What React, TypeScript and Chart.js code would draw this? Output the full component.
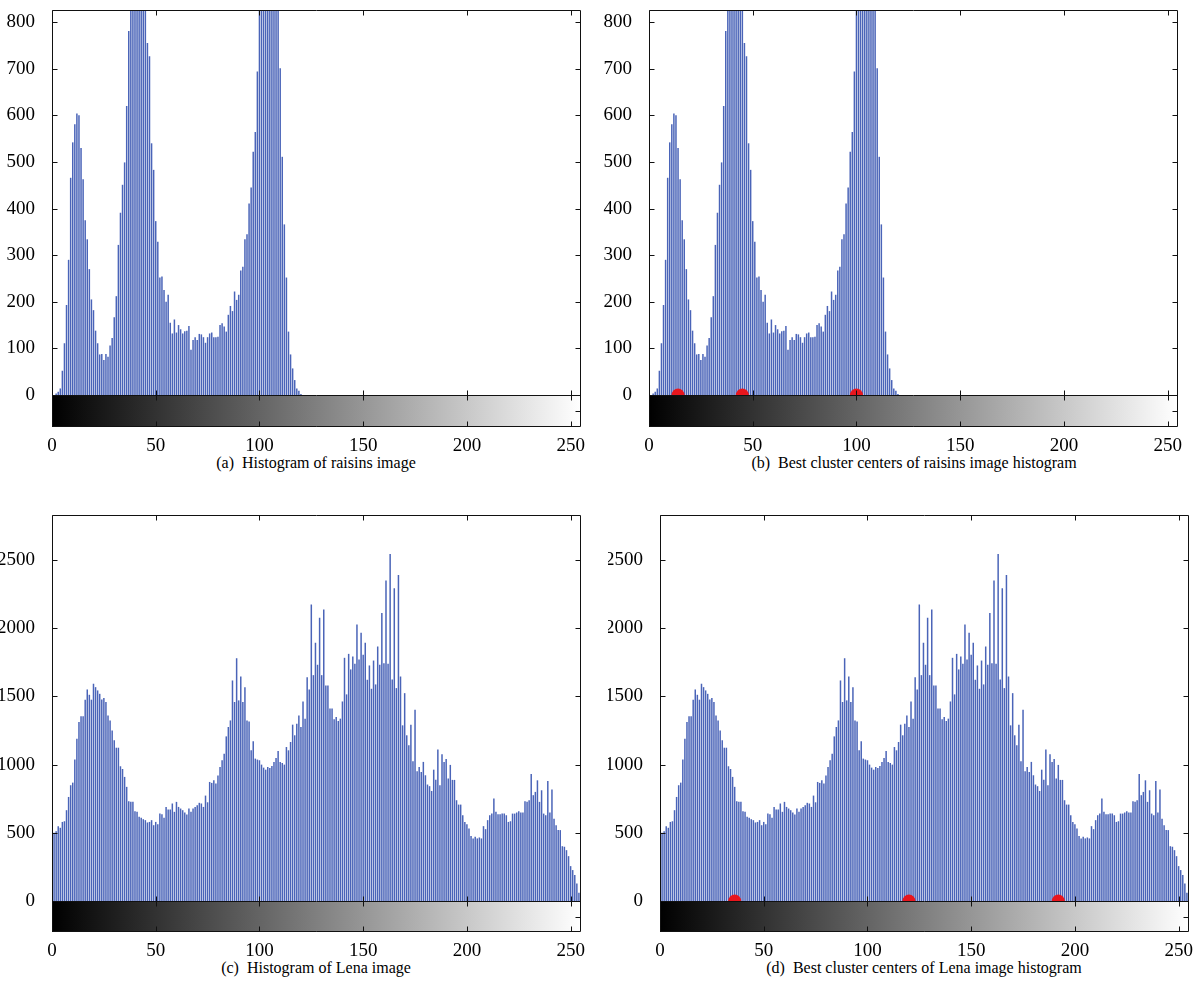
import React, { useEffect, useRef } from "react";
import { Chart, registerables } from "chart.js";
Chart.register(...registerables);

// ---------- data ----------
const raisinsCounts: number[] = [
  0, 0, 3, 7, 14, 52, 111, 193, 290, 466,
  542, 581, 604, 600, 530, 463, 375, 334, 270, 205,
  182, 138, 111, 87, 88, 75, 88, 82, 106, 122,
  167, 212, 322, 391, 451, 499, 620, 781, 880, 960,
  1050, 1100, 1120, 1060, 980, 900, 755, 727, 540, 483,
  373, 329, 252, 254, 225, 200, 215, 155, 132, 162,
  134, 150, 141, 132, 137, 138, 148, 97, 118, 124,
  118, 131, 130, 124, 112, 124, 132, 134, 124, 124,
  125, 150, 154, 147, 136, 172, 191, 180, 222, 204,
  215, 267, 275, 334, 345, 411, 445, 522, 564, 694,
  860, 950, 1050, 1150, 1200, 1180, 1100, 1000, 920, 850,
  701, 511, 366, 252, 136, 87, 57, 32, 14, 9,
  2, 0, 0, 0, 0, 0, 0, 0, 0, 0,
  0, 0, 0, 0, 0, 0, 0, 0, 0, 0,
  0, 0, 0, 0, 0, 0, 0, 0, 0, 0,
  0, 0, 0, 0, 0, 0, 0, 0, 0, 0,
  0, 0, 0, 0, 0, 0, 0, 0, 0, 0,
  0, 0, 0, 0, 0, 0, 0, 0, 0, 0,
  0, 0, 0, 0, 0, 0, 0, 0, 0, 0,
  0, 0, 0, 0, 0, 0, 0, 0, 0, 0,
  0, 0, 0, 0, 0, 0, 0, 0, 0, 0,
  0, 0, 0, 0, 0, 0, 0, 0, 0, 0,
  0, 0, 0, 0, 0, 0, 0, 0, 0, 0,
  0, 0, 0, 0, 0, 0, 0, 0, 0, 0,
  0, 0, 0, 0, 0, 0, 0, 0, 0, 0,
  0, 0, 0, 0, 0, 0,
];

const lenaCounts: number[] = [
  312, 500, 512, 549, 537, 580, 585, 666, 763, 849,
  868, 1037, 1190, 1312, 1354, 1354, 1476, 1551, 1512, 1476,
  1593, 1568, 1544, 1519, 1478, 1488, 1459, 1361, 1324, 1251,
  1178, 1124, 1124, 988, 968, 910, 837, 732, 727, 727,
  659, 654, 617, 610, 600, 593, 576, 580, 593, 556,
  580, 563, 641, 637, 610, 690, 671, 671, 715, 654,
  727, 690, 678, 666, 649, 634, 678, 654, 678, 690,
  702, 720, 715, 690, 773, 724, 873, 866, 885, 861,
  920, 983, 1032, 1080, 1207, 1276, 1324, 1617, 1459, 1780,
  1471, 1646, 1459, 1568, 1324, 1317, 1105, 1171, 1044, 1037,
  1032, 1000, 978, 963, 983, 976, 990, 1020, 1049, 1100,
  1020, 1012, 1000, 1129, 1105, 1166, 1293, 1215, 1300, 1361,
  1276, 1463, 1337, 1641, 1551, 2173, 1656, 1893, 1732, 2076,
  1656, 2137, 1580, 1580, 1412, 1412, 1332, 1349, 1320, 1337,
  1463, 1783, 1515, 1812, 1698, 1793, 1739, 2027, 1771, 1966,
  1805, 1893, 1622, 1727, 1556, 1763, 1588, 1866, 1732, 2112,
  1744, 2349, 1739, 2544, 1624, 2293, 1561, 2390, 1646, 1288,
  1524, 1215, 1142, 1293, 1024, 1402, 951, 983, 946, 1020,
  922, 854, 842, 807, 963, 890, 1110, 849, 1076, 1020,
  1041, 898, 998, 888, 888, 739, 707, 707, 629, 580,
  563, 532, 476, 459, 471, 459, 466, 459, 549, 527,
  593, 629, 641, 751, 654, 637, 637, 641, 641, 629,
  580, 585, 641, 641, 649, 659, 649, 649, 732, 727,
  739, 932, 776, 800, 885, 727, 812, 641, 629, 880,
  649, 817, 603, 556, 520, 520, 402, 398, 373, 329,
  256, 227, 190, 129, 61, 56,
];

const raisinsCenters: number[] = [14, 45, 100];
const lenaCenters: number[] = [36, 120, 192];

const xTickValues: number[] = [0, 50, 100, 150, 200, 250];
const raisinsYTicks: number[] = [0, 100, 200, 300, 400, 500, 600, 700, 800];
const lenaYTicks: number[] = [0, 500, 1000, 1500, 2000, 2500];

const captionA = "(a)  Histogram of raisins image";
const captionB = "(b)  Best cluster centers of raisins image histogram";
const captionC = "(c)  Histogram of Lena image";
const captionD = "(d)  Best cluster centers of Lena image histogram";

// ---------- styling ----------
const SERIF = '"Liberation Serif", "Times New Roman", serif';
const BAR_COLOR = "#4a64b8";
const DOT_COLOR = "#e8161d";
const CANVAS_W = 590;
const CANVAS_H = 452;

const framePlugin = {
  id: "frame",
  afterDatasetsDraw(chart: any) {
    const { ctx, chartArea, scales } = chart;
    const { left, right, top, bottom } = chartArea;
    const x = scales.x;
    const y = scales.y;
    const yTicks: number[] = chart.options.plugins.frame.yTicks;
    const al = (v: number) => Math.round(v) + 0.5;
    const zeroY = al(y.getPixelForValue(0));
    const L = al(left), R = al(right) - 1, T = al(top), B = al(bottom) - 1;

    ctx.save();
    const g = ctx.createLinearGradient(x.getPixelForValue(0), 0, x.getPixelForValue(255), 0);
    g.addColorStop(0, "#000000");
    g.addColorStop(1, "#ffffff");
    ctx.fillStyle = g;
    ctx.fillRect(left, zeroY, right - left, bottom - zeroY);

    ctx.strokeStyle = "#111";
    ctx.lineWidth = 1;
    ctx.beginPath();
    ctx.rect(L, T, R - L, B - T);
    ctx.moveTo(L, zeroY);
    ctx.lineTo(R, zeroY);
    const tk = 5;
    for (const v of xTickValues) {
      const px = al(x.getPixelForValue(v));
      ctx.moveTo(px, T); ctx.lineTo(px, T + tk);
      ctx.moveTo(px, zeroY - tk); ctx.lineTo(px, zeroY + tk);
      ctx.moveTo(px, B); ctx.lineTo(px, B - tk);
    }
    for (const v of yTicks) {
      if (v === 0) continue;
      const py = al(y.getPixelForValue(v));
      ctx.moveTo(L, py); ctx.lineTo(L + tk, py);
      ctx.moveTo(R, py); ctx.lineTo(R - tk, py);
    }
    const mid = al((zeroY + B) / 2);
    ctx.moveTo(R, mid); ctx.lineTo(R - tk, mid);
    ctx.stroke();
    ctx.restore();
  },
};

type PanelProps = {
  counts: number[];
  centers: number[] | null;
  yTicks: number[];
  yMin: number;
  yMax: number;
  left: number;
  top: number;
};

function Panel(p: PanelProps) {
  const ref = useRef<HTMLCanvasElement>(null);
  useEffect(() => {
    if (!ref.current) return;
    const font = { family: SERIF, size: 19 };
    const datasets: any[] = [];
    if (p.centers) {
      datasets.push({
        type: "scatter",
        data: p.centers.map((c) => ({ x: c, y: 0 })),
        backgroundColor: DOT_COLOR,
        borderWidth: 0,
        pointRadius: 6.5,
        order: 0,
      });
    }
    datasets.push({
      type: "bar",
      data: p.counts.map((v, i) => ({ x: i, y: v })),
      backgroundColor: BAR_COLOR,
      borderWidth: 0,
      barPercentage: 1,
      categoryPercentage: 0.72,
      order: 1,
    });
    const zeroPad = (s: any) => {
      s.paddingTop = 0; s.paddingBottom = 0; s.paddingLeft = 0; s.paddingRight = 0;
    };
    const chart = new Chart(ref.current, {
      type: "bar",
      data: { datasets },
      options: {
        responsive: false,
        animation: false,
        devicePixelRatio: 1,
        layout: { padding: { top: 10, right: 9, left: 0, bottom: 0 } },
        plugins: {
          legend: { display: false },
          tooltip: { enabled: false },
          frame: { yTicks: p.yTicks },
        } as any,
        scales: {
          x: {
            type: "linear",
            min: 0,
            max: 255,
            offset: false,
            afterBuildTicks: (s: any) => { s.ticks = xTickValues.map((v) => ({ value: v })); },
            afterFit: (s: any) => { s.height = 25; zeroPad(s); },
            grid: { display: false },
            border: { display: false },
            ticks: { font, color: "#000", padding: 0, maxRotation: 0, autoSkip: false, callback: (v: any) => String(v) },
          },
          y: {
            type: "linear",
            min: p.yMin,
            max: p.yMax,
            afterBuildTicks: (s: any) => { s.ticks = p.yTicks.map((v) => ({ value: v })); },
            afterFit: (s: any) => { s.width = 52; zeroPad(s); },
            grid: { display: false },
            border: { display: false },
            ticks: { font, color: "#000", padding: 9, autoSkip: false, callback: (v: any) => String(v) },
          },
        },
      } as any,
      plugins: [framePlugin],
    });
    return () => chart.destroy();
  }, []);
  return (
    <canvas
      ref={ref}
      width={CANVAS_W}
      height={CANVAS_H}
      style={{ position: "absolute", left: p.left, top: p.top, width: CANVAS_W, height: CANVAS_H }}
    />
  );
}

function Caption({ text, cx, cy }: { text: string; cx: number; cy: number }) {
  return (
    <div
      style={{
        position: "absolute",
        left: cx - 300,
        top: cy - 10,
        width: 600,
        height: 20,
        lineHeight: "20px",
        textAlign: "center",
        fontFamily: SERIF,
        fontSize: 16,
        color: "#000",
        whiteSpace: "pre",
      }}
    >
      {text}
    </div>
  );
}

export default function App() {
  return (
    <div style={{ position: "absolute", left: 0, top: 0, width: 1199, height: 1000, background: "#fff", overflow: "hidden" }}>
      <Panel counts={raisinsCounts} centers={null} yTicks={raisinsYTicks} yMin={-68.7} yMax={826} left={0} top={0} />
      <Panel counts={raisinsCounts} centers={raisinsCenters} yTicks={raisinsYTicks} yMin={-68.7} yMax={826} left={597} top={0} />
      <Panel counts={lenaCounts} centers={null} yTicks={lenaYTicks} yMin={-227} yMax={2830} left={0} top={505} />
      <Panel counts={lenaCounts} centers={lenaCenters} yTicks={lenaYTicks} yMin={-227} yMax={2830} left={608} top={505} />
      <Caption text={captionA} cx={316} cy={463} />
      <Caption text={captionB} cx={914} cy={463} />
      <Caption text={captionC} cx={316} cy={968} />
      <Caption text={captionD} cx={924} cy={968} />
    </div>
  );
}
